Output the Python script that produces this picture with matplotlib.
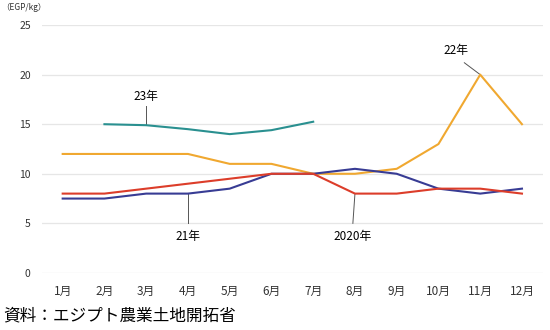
import numpy as np
import matplotlib
matplotlib.use("Agg")
import matplotlib.pyplot as plt

plt.rcParams['font.family'] = ['Noto Sans CJK JP', 'DejaVu Sans']

months = ["1月", "2月", "3月", "4月", "5月", "6月", "7月", "8月", "9月", "10月", "11月", "12月"]
y2020 = [8, 8, 8.5, 9, 9.5, 10, 10, 8, 8, 8.5, 8.5, 8]
y2021 = [7.5, 7.5, 8, 8, 8.5, 10, 10, 10.5, 10, 8.5, 8, 8.5]
y2022 = [12, 12, 12, 12, 11, 11, 10, 10, 10.5, 13, 20, 15]
y2023 = [np.nan, 15, 14.9, 14.5, 14, 14.4, 15.25, np.nan, np.nan, np.nan, np.nan, np.nan]
yticks = [0, 5, 10, 15, 20, 25]

x = np.arange(1, 13)

fig = plt.figure(figsize=(5.5, 3.3), dpi=100)
ax = fig.add_axes([0.076, 0.173, 0.911, 0.751])

ax.plot(x, y2022, color="#f0a830", lw=1.5, zorder=3)
ax.plot(x, y2023, color="#2a9090", lw=1.5, zorder=3)
ax.plot(x, y2021, color="#383c94", lw=1.5, zorder=4)
ax.plot(x, y2020, color="#dc3d2a", lw=1.5, zorder=4)

ax.set_xlim(0.5, 12.5)
ax.set_ylim(0, 25)
ax.set_yticks(yticks)
ax.set_xticks(x)
ax.set_xticklabels(months, fontsize=8.5)
ax.tick_params(axis='y', labelsize=7.5, length=0, pad=8, colors="#333333")
ax.tick_params(axis='x', length=0, pad=9, colors="#333333")
ax.grid(axis='y', color="#e6e6e6", lw=0.9)
ax.set_axisbelow(True)
for s in ax.spines.values():
    s.set_visible(False)

lc = "#555555"
# series labels with leader lines
ax.plot([3.0, 3.0], [y2023[2], y2023[2] + 1.9], color=lc, lw=0.7)
ax.text(3.0, 17.1, "23年", ha='center', va='bottom', fontsize=8.5)

ax.plot([10.62, 11], [21.2, y2022[10]], color=lc, lw=0.7)
ax.text(10.42, 21.8, "22年", ha='center', va='bottom', fontsize=8.5)

ax.plot([4, 4], [y2021[3], 5.0], color=lc, lw=0.7)
ax.text(4, 4.3, "21年", ha='center', va='top', fontsize=8.5)

ax.plot([8, 7.95], [y2020[7], 5.0], color=lc, lw=0.7)
ax.text(7.95, 4.3, "2020年", ha='center', va='top', fontsize=8.5)

fig.text(0.003, 0.978, "（EGP/kg）", fontsize=6, va='center', ha='left', color="#333333")
fig.text(0.005, 0.042, "資料：エジプト農業土地開拓省", fontsize=12, va='center', ha='left')

fig.savefig("out.png", dpi=100)
